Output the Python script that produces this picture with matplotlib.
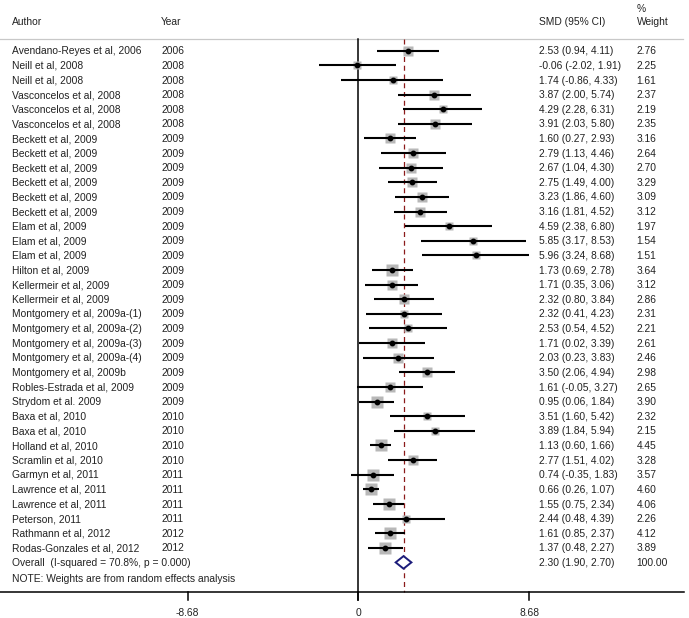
import numpy as np
import matplotlib
matplotlib.use("Agg")
import matplotlib.pyplot as plt

plt.rcParams['font.family'] = ['Liberation Sans', 'DejaVu Sans']

# study data
authors = [
    "Avendano-Reyes et al, 2006", "Neill et al, 2008", "Neill et al, 2008",
    "Vasconcelos et al, 2008", "Vasconcelos et al, 2008", "Vasconcelos et al, 2008",
    "Beckett et al, 2009", "Beckett et al, 2009", "Beckett et al, 2009",
    "Beckett et al, 2009", "Beckett et al, 2009", "Beckett et al, 2009",
    "Elam et al, 2009", "Elam et al, 2009", "Elam et al, 2009",
    "Hilton et al, 2009", "Kellermeir et al, 2009", "Kellermeir et al, 2009",
    "Montgomery et al, 2009a-(1)", "Montgomery et al, 2009a-(2)",
    "Montgomery et al, 2009a-(3)", "Montgomery et al, 2009a-(4)",
    "Montgomery et al, 2009b", "Robles-Estrada et al, 2009", "Strydom et al. 2009",
    "Baxa et al, 2010", "Baxa et al, 2010", "Holland et al, 2010",
    "Scramlin et al, 2010", "Garmyn et al, 2011", "Lawrence et al, 2011",
    "Lawrence et al, 2011", "Peterson, 2011", "Rathmann et al, 2012",
    "Rodas-Gonzales et al, 2012",
]
years = [2006, 2008, 2008, 2008, 2008, 2008] + [2009] * 19 + \
        [2010] * 4 + [2011] * 4 + [2012] * 2
smd = [2.53, -0.06, 1.74, 3.87, 4.29, 3.91, 1.60, 2.79, 2.67, 2.75, 3.23, 3.16,
       4.59, 5.85, 5.96, 1.73, 1.71, 2.32, 2.32, 2.53, 1.71, 2.03, 3.50, 1.61,
       0.95, 3.51, 3.89, 1.13, 2.77, 0.74, 0.66, 1.55, 2.44, 1.61, 1.37]
lo = [0.94, -2.02, -0.86, 2.00, 2.28, 2.03, 0.27, 1.13, 1.04, 1.49, 1.86, 1.81,
      2.38, 3.17, 3.24, 0.69, 0.35, 0.80, 0.41, 0.54, 0.02, 0.23, 2.06, -0.05,
      0.06, 1.60, 1.84, 0.60, 1.51, -0.35, 0.26, 0.75, 0.48, 0.85, 0.48]
hi = [4.11, 1.91, 4.33, 5.74, 6.31, 5.80, 2.93, 4.46, 4.30, 4.00, 4.60, 4.52,
      6.80, 8.53, 8.68, 2.78, 3.06, 3.84, 4.23, 4.52, 3.39, 3.83, 4.94, 3.27,
      1.84, 5.42, 5.94, 1.66, 4.02, 1.83, 1.07, 2.34, 4.39, 2.37, 2.27]
weight = [2.76, 2.25, 1.61, 2.37, 2.19, 2.35, 3.16, 2.64, 2.70, 3.29, 3.09, 3.12,
          1.97, 1.54, 1.51, 3.64, 3.12, 2.86, 2.31, 2.21, 2.61, 2.46, 2.98, 2.65,
          3.90, 2.32, 2.15, 4.45, 3.28, 3.57, 4.60, 4.06, 2.26, 4.12, 3.89]

overall_smd, overall_lo, overall_hi = 2.30, 1.90, 2.70
overall_label = "Overall  (I-squared = 70.8%, p = 0.000)"
xticks = [-8.68, 0, 8.68]

W, H = 689, 618
fig = plt.figure(figsize=(W / 100, H / 100), dpi=100)
ax = fig.add_axes([0, 0, 1, 1])
ax.axis('off')

# one data unit = 19.67 px, zero at px 358.3
x0, scale = 358.3, 19.67
ax.set_xlim(-x0 / scale, (W - x0) / scale)
ax.set_ylim(H, 0)


def px(p):
    return (p - x0) / scale


txt = '#222222'
fs = 7.4
lift = 3.6  # baseline sits this many px below the row centre


def label(xp, y, s, **kw):
    ax.text(px(xp), y + lift, s, fontsize=fs, color=txt, va='baseline', **kw)


row_y = 50.7 + 14.62 * np.arange(len(authors))
y_overall = row_y[-1] + 14.62
y_axis = 592

# header
label(12, 21.7, "Author")
label(161, 21.7, "Year")
label(539, 21.7, "SMD (95% CI)")
label(636.7, 8.5, "%")
label(636.7, 21.7, "Weight")
ax.plot([px(0), px(683)], [39.3, 39.3], color='#c8c8c8', lw=0.9)

# reference lines
ax.plot([0, 0], [39.3, 600], color='black', lw=1.1)
ax.plot([overall_smd, overall_smd], [39.3, y_axis], color='#8b1a1a', lw=0.9,
        dashes=(4, 3))

# studies
for i in range(len(authors)):
    y = row_y[i]
    ax.plot(smd[i], y, marker='s', ms=4.25 * np.sqrt(weight[i]),
            color='#b8b8b8', mec='none', zorder=2)
    ax.plot([lo[i], hi[i]], [y, y], color='black', lw=1.5, zorder=3,
            solid_capstyle='butt')
    ax.plot(smd[i], y, marker='o', ms=3.2, color='black', zorder=4)
    label(12, y, authors[i])
    label(161, y, str(years[i]))
    label(539, y, f"{smd[i]:.2f} ({lo[i]:.2f}, {hi[i]:.2f})")
    label(636.7, y, f"{weight[i]:.2f}")

# overall diamond
ax.fill([overall_lo, overall_smd, overall_hi, overall_smd],
        [y_overall, y_overall - 6.3, y_overall, y_overall + 6.3],
        facecolor='white', edgecolor='#1c1c7a', lw=1.4, zorder=5)
label(12, y_overall, overall_label)
label(539, y_overall, f"{overall_smd:.2f} ({overall_lo:.2f}, {overall_hi:.2f})")
label(636.7, y_overall, "100.00")

label(12, 578, "NOTE: Weights are from random effects analysis")

# x axis
ax.plot([px(0), px(684)], [y_axis, y_axis], color='black', lw=1.1)
for t in xticks:
    ax.plot([t, t], [y_axis, 600], color='black', lw=1.1)
    ax.text(t, 612 + lift, f"{t:g}", fontsize=fs, color=txt, ha='center',
            va='baseline')

fig.savefig("out.png", dpi=100)
